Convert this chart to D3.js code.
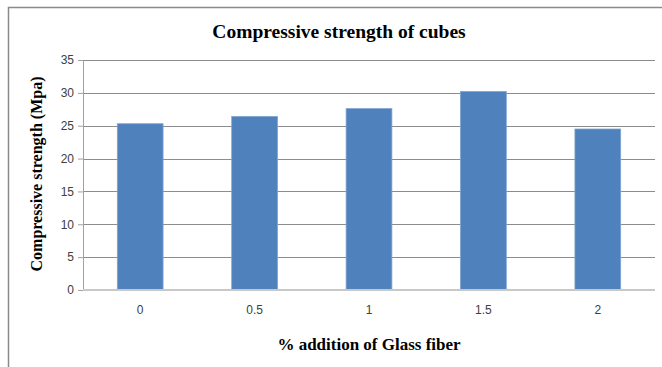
<!DOCTYPE html>
<html>
<head>
<meta charset="utf-8">
<script src="https://cdn.jsdelivr.net/npm/d3@7"></script>
<style>
  body { margin: 0; background: #fff; }
  .tick text { font-family: "Liberation Sans", Arial, sans-serif; font-size: 12px; fill: #404040; }
</style>
</head>
<body>
<script>
var categories = ["0", "0.5", "1", "1.5", "2"];
var strength = [25.3, 26.4, 27.6, 30.2, 24.5];
var yTicks = [0, 5, 10, 15, 20, 25, 30, 35];

var margin = {top: 60, right: 7, bottom: 77, left: 83},
    width = 662 - margin.left - margin.right,
    height = 367 - margin.top - margin.bottom;

var svg = d3.select("body").append("svg")
    .attr("width", 662)
    .attr("height", 367);

// outer chart border (left + top visible)
svg.append("path")
    .attr("d", "M8.5,367 L8.5,7.5 L662,7.5")
    .attr("fill", "none")
    .attr("stroke", "#8a8a8a")
    .attr("stroke-width", 1.5);

var g = svg.append("g")
    .attr("transform", "translate(" + margin.left + "," + margin.top + ")");

var x = d3.scaleBand().domain(categories).range([0, 572]).paddingInner(0.6).paddingOuter(0.3);
var y = d3.scaleLinear().domain([0, 35]).range([230, 0]);

// gridlines
g.selectAll("line.grid")
    .data(yTicks.filter(function(d) { return d > 0; }))
  .enter().append("line")
    .attr("class", "grid")
    .attr("x1", 0).attr("x2", 572)
    .attr("y1", function(d) { return Math.round(y(d)) + 0.5; })
    .attr("y2", function(d) { return Math.round(y(d)) + 0.5; })
    .attr("stroke", "#8c8c8c");

// bars
g.selectAll("rect.bar")
    .data(strength)
  .enter().append("rect")
    .attr("class", "bar")
    .attr("x", function(d, i) { return x(categories[i]); })
    .attr("width", x.bandwidth())
    .attr("y", function(d) { return y(d); })
    .attr("height", function(d) { return y(0) - y(d); })
    .attr("fill", "#4f81bd")
    .attr("stroke", "#7ea3d0")
    .attr("stroke-width", 0.8);

// Y axis
var yAxis = g.append("g")
    .call(d3.axisLeft(y).tickValues(yTicks).tickSize(5).tickPadding(4));
yAxis.select(".domain").attr("stroke", "#a0a0a0").attr("d", "M-5,0.5H0.5V230");
yAxis.selectAll(".tick line").attr("stroke", "#a0a0a0");

// X axis
var xAxis = g.append("g")
    .attr("transform", "translate(0,230)")
    .call(d3.axisBottom(x).tickSize(0).tickPadding(15));
xAxis.select(".domain").attr("stroke", "#c8c8c8").attr("stroke-width", 2).attr("d", "M0,0H572");

// title
svg.append("text")
    .attr("x", 339)
    .attr("y", 38)
    .attr("text-anchor", "middle")
    .style("font-family", "'Liberation Serif', 'Times New Roman', serif")
    .style("font-weight", "bold")
    .style("font-size", "19.5px")
    .attr("fill", "#000")
    .text("Compressive strength of cubes");

// y label
svg.append("text")
    .attr("transform", "translate(42,174) rotate(-90)")
    .attr("text-anchor", "middle")
    .style("font-family", "'Liberation Serif', 'Times New Roman', serif")
    .style("font-weight", "bold")
    .style("font-size", "16px")
    .attr("fill", "#000")
    .text("Compressive strength (Mpa)");

// x label
svg.append("text")
    .attr("x", 369)
    .attr("y", 350)
    .attr("text-anchor", "middle")
    .style("font-family", "'Liberation Serif', 'Times New Roman', serif")
    .style("font-weight", "bold")
    .style("font-size", "17px")
    .attr("fill", "#000")
    .text("% addition of Glass fiber");
</script>
</body>
</html>
